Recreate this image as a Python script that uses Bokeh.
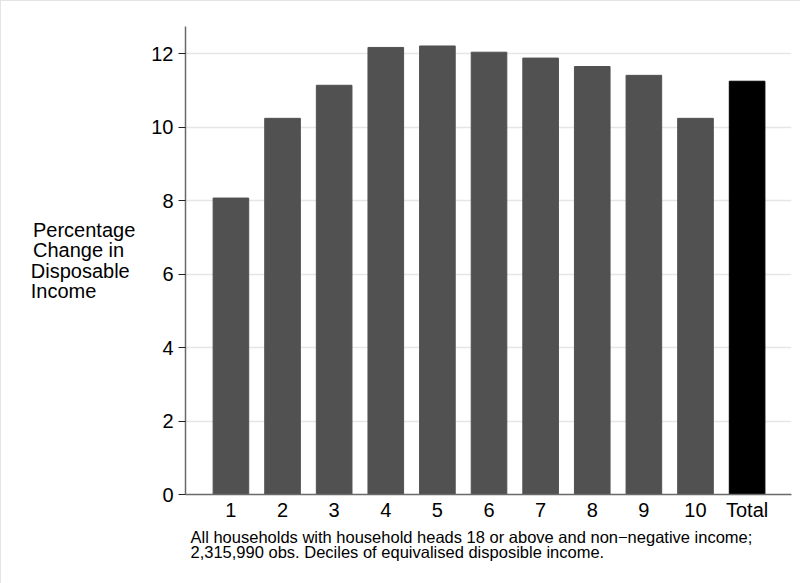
from bokeh.plotting import figure
from bokeh.models import Range1d, FixedTicker, ColumnDataSource, Title
from bokeh.embed import file_html
from bokeh.resources import INLINE

categories = ["1", "2", "3", "4", "5", "6", "7", "8", "9", "10", "Total"]
values = [8.07, 10.24, 11.14, 12.17, 12.21, 12.04, 11.88, 11.65, 11.41, 10.24, 11.25]
y_ticks = [0, 2, 4, 6, 8, 10, 12]
ylabel_lines = ["Percentage", "Change in", "Disposable", "Income"]
note_lines = [
    "All households with household heads 18 or above and non\u2212negative income;",
    "2,315,990 obs. Deciles of equivalised disposible income.",
]

FONT = "Liberation Sans"
x = list(range(1, len(categories) + 1))
colors = ["#000000" if c == "Total" else "#515151" for c in categories]
src = ColumnDataSource(dict(x=x, top=values, color=colors, cat=categories))

p = figure(width=800, height=583, output_backend="svg", toolbar_location=None,
           x_range=Range1d(0.12, 11.86), y_range=Range1d(0, 12.74),
           min_border_left=184, min_border_right=10, min_border_top=25,
           min_border_bottom=90)
p.outline_line_color = None
p.styles = {"border-left": "1px solid #e4e4e4", "border-top": "1px solid #e4e4e4"}

p.vbar(x="x", top="top", width=0.69, color="color", source=src)

# x axis
p.xaxis.ticker = FixedTicker(ticks=x)
p.xaxis.major_label_overrides = {xi: c for xi, c in zip(x, categories)}
p.xaxis.major_tick_line_color = None
p.xaxis.major_tick_out = 0
p.xaxis.major_tick_in = 0
p.xaxis.minor_tick_line_color = None
p.xaxis.axis_line_color = "#6a6a6a"
p.xaxis.axis_line_width = 1.5
p.xaxis.major_label_text_font = FONT
p.xaxis.major_label_text_font_size = "20px"
p.xaxis.major_label_text_color = "#000000"
p.xaxis.major_label_standoff = 4

# y axis
p.yaxis.ticker = FixedTicker(ticks=y_ticks)
p.yaxis.major_tick_out = 7
p.yaxis.major_tick_in = 0
p.yaxis.major_tick_line_color = "#222222"
p.yaxis.minor_tick_line_color = None
p.yaxis.axis_line_color = "#6a6a6a"
p.yaxis.axis_line_width = 1.5
p.yaxis.major_label_text_font = FONT
p.yaxis.major_label_text_font_size = "20px"
p.yaxis.major_label_text_color = "#000000"
p.yaxis.major_label_standoff = 5

# horizontal, multi-line, left-aligned y-axis title
# (lines padded with no-break spaces so the right-aligned block reads left-aligned)
pad = [0, 2, 1, 7]
padded = [line + "\u00a0" * n for line, n in zip(ylabel_lines, pad)]
yax = p.yaxis[0]
yax.axis_label = "\n".join(padded)
yax.axis_label_text_font = FONT
yax.axis_label_text_font_size = "20px"
yax.axis_label_text_font_style = "normal"
yax.axis_label_text_color = "#000000"
yax.axis_label_text_line_height = 0.92
yax.axis_label_standoff = 13
try:
    yax.axis_label_orientation = "horizontal"
except Exception:
    pass

p.xgrid.grid_line_color = None
p.ygrid.ticker = FixedTicker(ticks=y_ticks)
p.ygrid.grid_line_color = "#e6e6e6"
p.ygrid.grid_line_width = 1.5

# note below the plot
p.add_layout(Title(text="\n".join(note_lines), align="left", offset=5, standoff=6,
                   text_font=FONT, text_font_size="16.5px",
                   text_font_style="normal", text_color="#000000",
                   text_line_height=0.856), "below")

open("out.html", "w").write(file_html(p, INLINE))
